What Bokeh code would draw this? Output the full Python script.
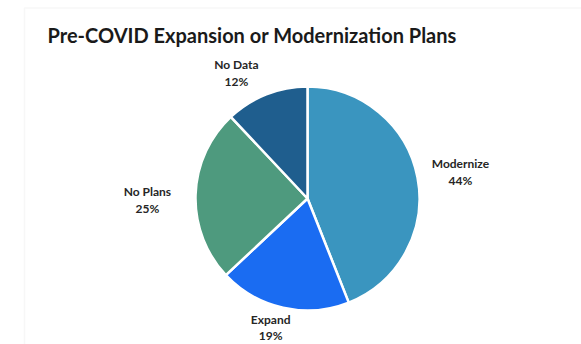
import math
from bokeh.plotting import figure
from bokeh.models import ColumnDataSource, BoxAnnotation, Range1d
from bokeh.core.properties import value
from bokeh.embed import file_html
from bokeh.resources import INLINE

# ---- data ----
categories = ["Modernize", "Expand", "No Plans", "No Data"]
percents = [44, 19, 25, 12]
colors = ["#3a95bf", "#1a6cf2", "#4e9a7e", "#1f5e8e"]
title_text = "Pre-COVID Expansion or Modernization Plans"

W, H = 581, 344
p = figure(width=W, height=H, output_backend="svg", toolbar_location=None,
           x_range=Range1d(0, W), y_range=Range1d(0, H), min_border=0)
p.axis.visible = False
p.grid.visible = False
p.outline_line_color = None
p.background_fill_color = "white"
p.border_fill_color = "white"

# chart-area frame
p.add_layout(BoxAnnotation(left=24, right=W + 5, bottom=-5, top=H - 7.5,
                           fill_color=None, line_color="#e6e6e6", line_width=1.5))

cx, cy, r = 307, H - 198, 112
total = sum(percents)
start, ends, mids = [], [], []
acc = 0.0
for v in percents:
    a0 = math.pi / 2 - 2 * math.pi * acc / total
    acc += v
    a1 = math.pi / 2 - 2 * math.pi * acc / total
    start.append(a0)
    ends.append(a1)
    mids.append((a0 + a1) / 2)

src = ColumnDataSource(dict(start=start, end=ends, color=colors,
                            x=[cx] * len(percents), y=[cy] * len(percents)))
p.wedge(x="x", y="y", radius=r, start_angle="start", end_angle="end",
        direction="clock", fill_color="color", line_color="white",
        line_width=2.5, source=src)

# labels (outside end, with small layout nudges)
lr = [1.39, 1.22, 1.43, 1.24]
nudge_x = [0, -7, 0, -20]
nudge_y = [-3, 4, -7, -4]
lx = [cx + r * f * math.cos(m) + nx for f, m, nx in zip(lr, mids, nudge_x)]
ly = [cy + r * f * math.sin(m) + ny for f, m, ny in zip(lr, mids, nudge_y)]
lsrc = ColumnDataSource(dict(x=lx, y=ly, name=categories,
                             pct=[f"{v}%" for v in percents]))
common = dict(source=lsrc, text_align="center", text_baseline="middle",
              text_font=value("Lato"), text_font_style="bold",
              text_font_size="12px", text_color="#262626")
p.text(x="x", y="y", text="name", y_offset=-8.5, **common)
p.text(x="x", y="y", text="pct", y_offset=8, **common)

# title
p.text(x=[47], y=[H - 34], text=[title_text], text_align="left",
       text_baseline="middle", text_font=value("Lato"),
       text_font_style="bold", text_font_size="20px", text_color="#1a1a1a")

open("out.html", "w").write(file_html(p, INLINE))
